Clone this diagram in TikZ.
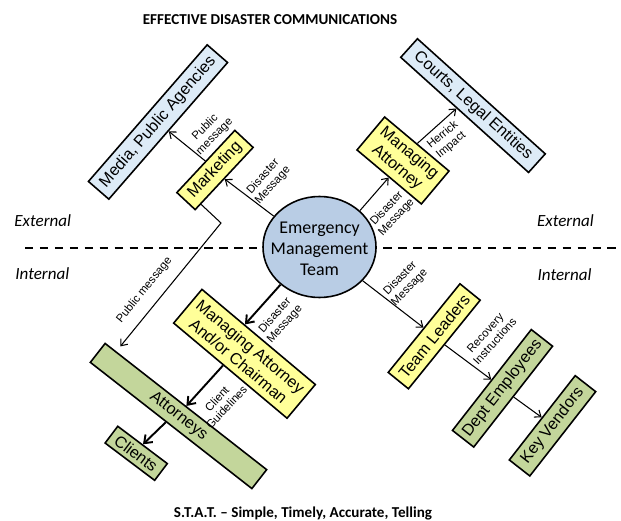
\documentclass[tikz,border=0pt]{standalone}
\usepackage{fontspec}
\setmainfont{Liberation Sans}
\newfontfamily\calib{Carlito}
\usetikzlibrary{shapes.geometric,arrows.meta,calc}
\definecolor{boxblue}{RGB}{221,235,247}
\definecolor{boxyellow}{RGB}{255,255,153}
\definecolor{boxgreen}{RGB}{195,214,155}
\definecolor{circblue}{RGB}{185,205,229}
\begin{document}
\begin{tikzpicture}[x=0.02cm,y=-0.02cm,
  box/.style={draw=black,line width=0.9pt,inner sep=0pt,align=center,font=\fontsize{9.2}{10.6}\selectfont},
  bluebox/.style={box,fill=boxblue},
  yelbox/.style={box,fill=boxyellow},
  grnbox/.style={box,fill=boxgreen},
  lbl/.style={font=\fontsize{6.5}{7.4}\selectfont,align=center,inner sep=0pt},
  arr/.style={draw=black,line width=0.6pt,-{Straight Barb[length=3.2pt,width=5pt]}},
  thickarr/.style={draw=black,line width=1.1pt,-{Straight Barb[length=4pt,width=6pt]}},
  side/.style={font=\calib\itshape\fontsize{9.7}{11}\selectfont,inner sep=0pt,anchor=base west},
  heading/.style={font=\calib\bfseries\fontsize{8.6}{10}\selectfont,inner sep=0pt,anchor=base}
]
\useasboundingbox (0,0) rectangle (621,520);

% separator
\draw[line width=1.1pt,dash pattern=on 4.8pt off 3.7pt] (25,247.7) -- (621,247.7);

% headings
\node[heading] (title) at (270,24.3) {EFFECTIVE DISASTER COMMUNICATIONS};
\node[heading] (stat) at (303,517.5) {S.T.A.T. – Simple, Timely, Accurate, Telling};

\node[side] (extL) at (14,226) {External};
\node[side] (intL) at (15,279) {Internal};
\node[side] (extR) at (536.7,226.5) {External};
\node[side] (intR) at (537.3,280) {Internal};

% centre
\node[ellipse,draw=black,fill=circblue,line width=0.9pt,minimum width=113*0.02cm,minimum height=101*0.02cm,inner sep=0pt] (emt) at (319.5,247) {};
\node[align=center,inner sep=0pt,font=\calib\fontsize{10.2}{11.9}\selectfont] (emtname) at ([yshift=-1.2pt]emt.center) {Emergency\\Management\\Team};

% boxes
\node[bluebox,rotate=49,minimum width=181*0.02cm,minimum height=27*0.02cm] (media) at (158,122) {Media, Public Agencies};
\node[yelbox,rotate=47,minimum width=85*0.02cm,minimum height=25*0.02cm] (mkt) at (215,170) {Marketing};
\node[yelbox,rotate=-40,minimum width=84*0.02cm,minimum height=43*0.02cm] (ma) at (403,160.5) {Managing\\Attorney};
\node[bluebox,rotate=-42,minimum width=172*0.02cm,minimum height=25*0.02cm] (courts) at (473,105.6) {Courts, Legal Entities};
\node[yelbox,rotate=-40,minimum width=148*0.02cm,minimum height=44*0.02cm] (maac) at (244.5,353.8) {Managing Attorney\\And/or Chairman};
\node[grnbox,rotate=-38,minimum width=205*0.02cm,minimum height=24*0.02cm] (att) at (178.5,416) {Attorneys};
\node[grnbox,rotate=-37,minimum width=62*0.02cm,minimum height=21*0.02cm] (clients) at (136.2,453.3) {Clients};
\node[yelbox,rotate=51,minimum width=114*0.02cm,minimum height=26*0.02cm] (tl) at (434.2,336.3) {Team Leaders};
\node[grnbox,rotate=52,minimum width=128*0.02cm,minimum height=27*0.02cm] (de) at (502.5,388.3) {Dept Employees};
\node[grnbox,rotate=52,minimum width=107*0.02cm,minimum height=26*0.02cm] (kv) at (552.5,425.8) {Key Vendors};

% connectors
\draw[arr] (emt.146) -- (mkt.south);
\draw[arr] (mkt.north) -- (media.south);
\coordinate (bend) at (221,223);
\draw[arr,shorten >=3.5pt] ($(mkt.south west)!0.1!(mkt.south east)$) -- (bend) -- ($(att.north west)!0.07!(att.north east)$);
\draw[arr] (emt.42) -- (ma.south);
\draw[arr] (ma.north) -- ($(courts.south west)!0.44!(courts.south east)$);
\draw[thickarr] (emt.224) -- ($(maac.north west)!0.376!(maac.north east)$);
\draw[thickarr] ($(maac.south west)!0.44!(maac.south east)$) -- (att.north);
\draw[thickarr] ($(att.south west)!0.47!(att.south east)$) -- (clients.north);
\draw[arr] (emt.322) -- (tl.north);
\draw[arr] (tl.south) -- (de.north);
\draw[arr] (de.south) -- (kv.north);

% labels
\node[lbl,rotate=48] (l1) at (268,181) {Disaster\\Message};
\node[lbl,rotate=45] (l2) at (210,132) {Public\\message};
\node[lbl,rotate=51] (l3) at (144.5,290) {Public message};
\node[lbl,rotate=47] (l4) at (391.7,213) {Disaster\\Message};
\node[lbl,rotate=40] (l5) at (447,140) {Herrick\\Impact};
\node[lbl,rotate=48] (l6) at (280,320) {Disaster\\Message};
\node[lbl,rotate=47] (l7) at (221.7,403) {Client\\Guidelines};
\node[lbl,rotate=46] (l9) at (405,283) {Disaster\\Message};
\node[lbl,rotate=48] (l10) at (490,337) {Recovery\\Instructions};
\end{tikzpicture}
\end{document}
